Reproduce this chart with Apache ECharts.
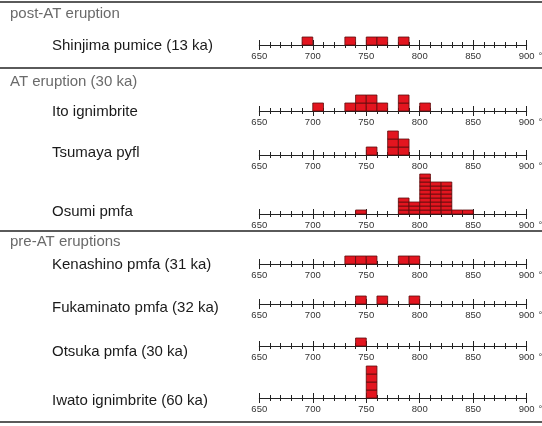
<!DOCTYPE html>
<html>
<head>
<meta charset="utf-8">
<script src="https://cdn.jsdelivr.net/npm/echarts@6/dist/echarts.min.js"></script>
<style>html,body{margin:0;padding:0;background:#fff;}#c{width:542px;height:426px;}</style>
</head>
<body>
<div id="c"></div>
<script>
// ---- data ----
var groupHeaders = ['post-AT eruption', 'AT eruption (30 ka)', 'pre-AT eruptions'];
var sampleNames = ['Shinjima pumice (13 ka)', 'Ito ignimbrite', 'Tsumaya pyfl', 'Osumi pmfa',
  'Kenashino pmfa (31 ka)', 'Fukaminato pmfa (32 ka)', 'Otsuka pmfa (30 ka)', 'Iwato ignimbrite (60 ka)'];
var shinjimaBins = [690, 730, 750, 760, 780];
var shinjimaCounts = [1, 1, 1, 1, 1];
var itoBins = [700, 730, 740, 750, 760, 780, 800];
var itoCounts = [1, 1, 2, 2, 1, 2, 1];
var tsumayaBins = [750, 770, 780];
var tsumayaCounts = [1, 3, 2];
var osumiBins = [740, 780, 790, 800, 810, 820, 830, 840];
var osumiCounts = [1, 4, 3, 10, 8, 8, 1, 1];
var kenashinoBins = [730, 740, 750, 780, 790];
var kenashinoCounts = [1, 1, 1, 1, 1];
var fukaminatoBins = [740, 760, 790];
var fukaminatoCounts = [1, 1, 1];
var otsukaBins = [740];
var otsukaCounts = [1];
var iwatoBins = [750];
var iwatoCounts = [4];
var xMin = 650, xMax = 900, xMajor = 50, binWidth = 10;
var tempUnit = '°C';

var samples = [
  [shinjimaBins, shinjimaCounts], [itoBins, itoCounts], [tsumayaBins, tsumayaCounts],
  [osumiBins, osumiCounts], [kenashinoBins, kenashinoCounts], [fukaminatoBins, fukaminatoCounts],
  [otsukaBins, otsukaCounts], [iwatoBins, iwatoCounts]
];

// ---- layout ----
var axisY = [45, 111, 155, 214, 264, 304, 346, 398];
var labelY = [46, 112, 153, 212, 265, 308, 352, 401];
var yMaxes = [4, 4, 4, 10, 4, 4, 4, 4];
var unitPx = [8, 8, 8, 4, 8, 8, 8, 8];
var headerY = [14, 82, 242];
var sepY = [2, 68, 231, 422];
var gridLeft = 259.3, gridRight = 15.3;

var grids = [], xAxes = [], yAxes = [], series = [], graphics = [];
samples.forEach(function (s, i) {
  var H = yMaxes[i] * unitPx[i];
  grids.push({ left: gridLeft, right: gridRight, top: axisY[i] - H, height: H,
    containLabel: false, outerBoundsMode: 'none' });
  var common = {
    type: 'value', gridIndex: i, min: xMin, max: xMax, interval: xMajor, position: 'bottom',
    splitLine: { show: false }
  };
  xAxes.push(Object.assign({}, common, {
    axisLine: { show: true, lineStyle: { color: '#222', width: 1 } },
    axisTick: { show: true, length: 5, lineStyle: { color: '#222', width: 1 } },
    minorTick: { show: true, splitNumber: 5, length: 3, lineStyle: { color: '#222', width: 1 } },
    axisLabel: { show: true, fontSize: 9.5, color: '#333', margin: 6, fontFamily: 'Liberation Sans' },
    name: tempUnit, nameLocation: 'end', nameGap: 6,
    nameTextStyle: { fontSize: 9.5, color: '#333', fontFamily: 'Liberation Sans', verticalAlign: 'top', padding: [6, 0, 0, 0] }
  }));
  xAxes.push(Object.assign({}, common, {
    axisLine: { show: false },
    axisTick: { show: true, inside: true, length: 5, lineStyle: { color: '#222', width: 1 } },
    minorTick: { show: true, splitNumber: 5, length: 3, lineStyle: { color: '#222', width: 1 } },
    axisLabel: { show: false }
  }));
  yAxes.push({ type: 'value', gridIndex: i, min: 0, max: yMaxes[i], show: false });
  var data = s[0].map(function (b, k) { return [b, s[1][k]]; });
  series.push({
    type: 'custom', xAxisIndex: 2 * i, yAxisIndex: i, data: data, z: 5,
    renderItem: function (params, api) {
      var x0 = api.value(0), n = api.value(1);
      var children = [];
      for (var k = 0; k < n; k++) {
        var p0 = api.coord([x0, k]);
        var p1 = api.coord([x0 + binWidth, k + 1]);
        children.push({
          type: 'rect',
          shape: { x: p0[0], y: p1[1], width: p1[0] - p0[0], height: p0[1] - p1[1] },
          style: { fill: '#e3151f', stroke: '#5a0c0c', lineWidth: 0.8 }
        });
      }
      return { type: 'group', children: children };
    }
  });
  graphics.push({
    type: 'text', x: 52, y: labelY[i],
    style: { text: sampleNames[i], fontSize: 15, fill: '#1a1a1a', fontFamily: 'Liberation Sans', verticalAlign: 'middle' }
  });
});
groupHeaders.forEach(function (h, i) {
  graphics.push({
    type: 'text', x: 10, y: headerY[i],
    style: { text: h, fontSize: 15, fill: '#6a6a6a', fontFamily: 'Liberation Sans', verticalAlign: 'middle' }
  });
});
sepY.forEach(function (y) {
  graphics.push({ type: 'line', shape: { x1: 0, y1: y, x2: 542, y2: y }, style: { stroke: '#5a5a5a', lineWidth: 2 } });
});

var chart = echarts.init(document.getElementById('c'), null, { renderer: 'canvas' });
chart.setOption({
  animation: false,
  backgroundColor: '#fff',
  grid: grids, xAxis: xAxes, yAxis: yAxes, series: series, graphic: graphics
});
</script>
</body>
</html>
